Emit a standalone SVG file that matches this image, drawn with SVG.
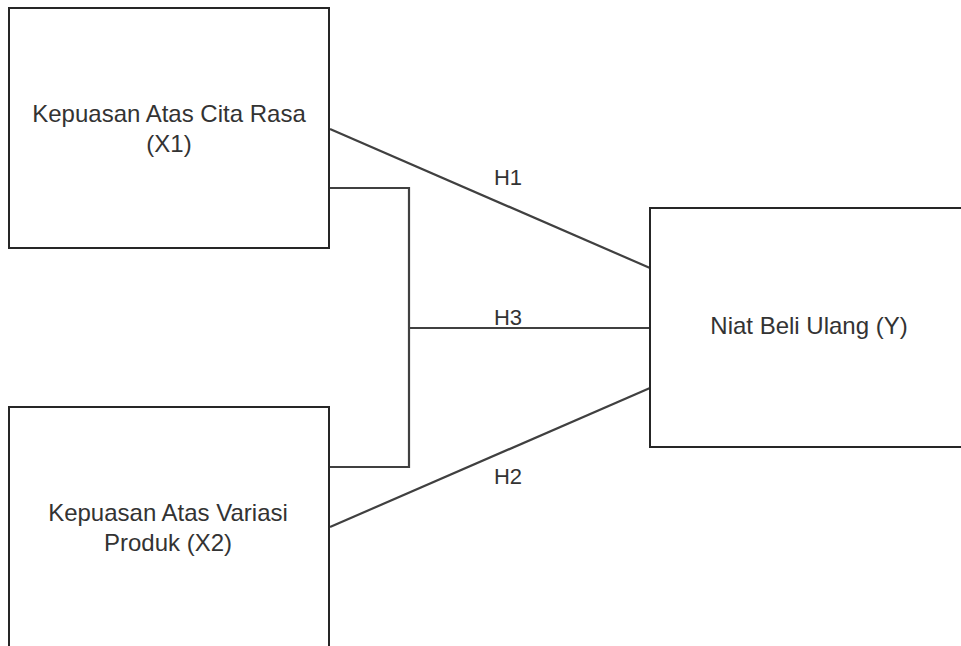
<svg xmlns="http://www.w3.org/2000/svg" width="961" height="646" viewBox="0 0 961 646">
<style>
.box{fill:#fff;stroke:#262626;stroke-width:2}
.ln{fill:none;stroke:#404040;stroke-width:2.2}
.t{font-family:"Liberation Sans",Arial,sans-serif;font-size:24px;fill:#333;text-anchor:middle}
.lb{font-family:"Liberation Sans",Arial,sans-serif;font-size:22px;fill:#333;text-anchor:middle}
</style>
<rect width="961" height="646" fill="#fff"/>
<g id="connectors">
<line class="ln" x1="330" y1="129" x2="650" y2="268"/>
<polyline class="ln" points="330,188 409,188 409,467 330,467"/>
<line class="ln" x1="409" y1="328" x2="650" y2="328"/>
<line class="ln" x1="330" y1="527" x2="650" y2="388"/>
<text class="lb" x="508" y="185">H1</text>
<text class="lb" x="508" y="325">H3</text>
<text class="lb" x="508" y="484">H2</text>
</g>
<g id="x1">
<rect class="box" x="9" y="8" width="320" height="240"/>
<text class="t" x="169" y="122">Kepuasan Atas Cita Rasa</text>
<text class="t" x="169" y="152">(X1)</text>
</g>
<g id="x2">
<rect class="box" x="9" y="407" width="320" height="260"/>
<text class="t" x="168" y="521">Kepuasan Atas Variasi</text>
<text class="t" x="168" y="551">Produk (X2)</text>
</g>
<g id="y">
<rect class="box" x="650" y="208" width="330" height="239"/>
<text class="t" x="809" y="334">Niat Beli Ulang (Y)</text>
</g>
</svg>
